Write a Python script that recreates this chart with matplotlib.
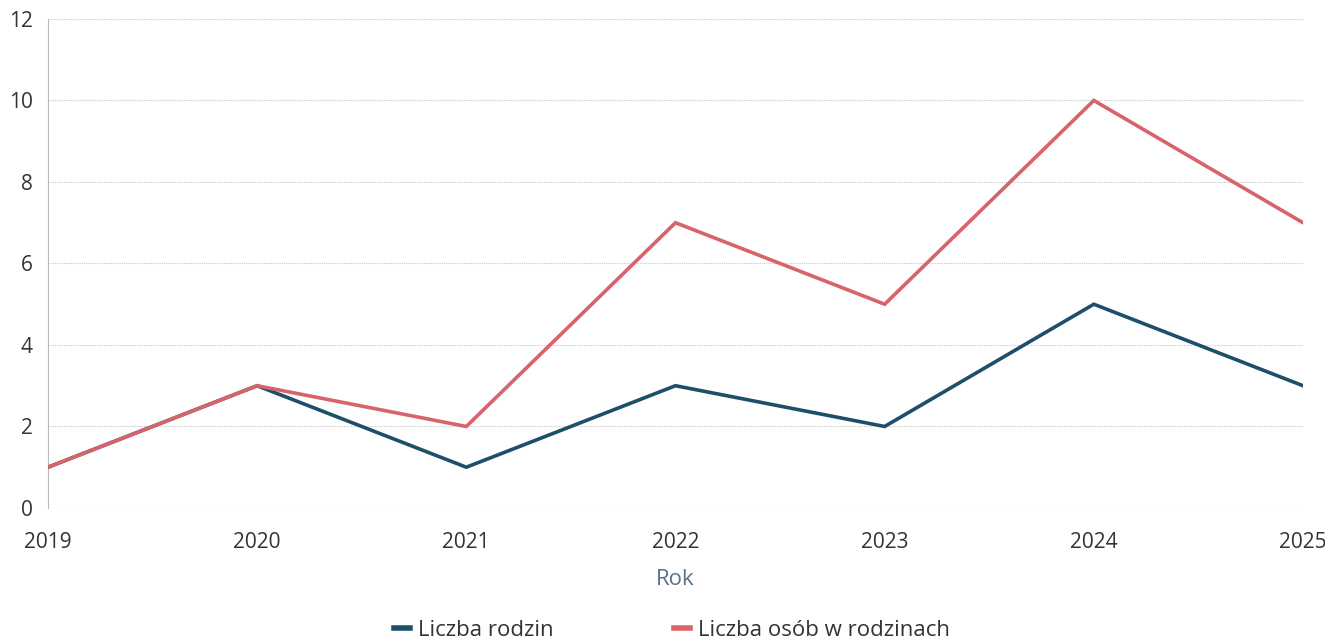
import matplotlib.pyplot as plt
from matplotlib.lines import Line2D

years = [2019, 2020, 2021, 2022, 2023, 2024, 2025]
liczba_rodzin = [1, 3, 1, 3, 2, 5, 3]
liczba_osob = [1, 3, 2, 7, 5, 10, 7]
series_labels = ['Liczba rodzin', 'Liczba osób w rodzinach']
y_ticks = [0, 2, 4, 6, 8, 10, 12]

plt.rcParams['font.family'] = ['Open Sans', 'DejaVu Sans']

blue = '#1d4f6b'
red = '#d9636a'
text_col = '#333333'

fig = plt.figure(figsize=(13.25, 6.43), dpi=100)
ax = fig.add_axes([0.0362, 0.21, 0.9472, 0.7605])

ax.plot(years, liczba_rodzin, color=blue, linewidth=2.6, solid_joinstyle='miter', zorder=3)
ax.plot(years, liczba_osob, color=red, linewidth=2.6, solid_joinstyle='miter', zorder=4)

ax.set_xlim(years[0], years[-1])
ax.set_ylim(0, 12)
ax.set_yticks(y_ticks)
ax.set_xticks(years)
ax.set_xticklabels([str(y) for y in years])

ax.grid(axis='y', color='#c8c8c8', linestyle=(0, (1, 1)), linewidth=0.8)
for s in ['top', 'right', 'bottom']:
    ax.spines[s].set_visible(False)
ax.spines['left'].set_color('#bbbbbb')
ax.spines['left'].set_linestyle((0, (1, 1)))
ax.spines['left'].set_linewidth(0.8)

ax.tick_params(axis='both', length=0, labelsize=15, labelcolor=text_col)
ax.tick_params(axis='y', pad=11)
ax.tick_params(axis='x', pad=17)

ax.set_xlabel('Rok', fontsize=16, color='#5b7288', labelpad=12)

handles = [Line2D([0], [0], color=blue, linewidth=4),
           Line2D([0], [0], color=red, linewidth=4)]
fig.legend(handles, series_labels, loc='lower center', bbox_to_anchor=(0.507, -0.028),
           ncol=2, frameon=False, fontsize=16, handlelength=0.75, handletextpad=0.35,
           columnspacing=5.4, labelcolor=text_col)

fig.savefig('out.png', dpi=100, facecolor='white')
